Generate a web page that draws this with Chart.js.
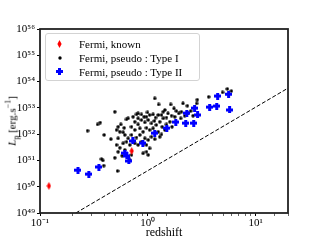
<!DOCTYPE html>
<html>
<head>
<meta charset="utf-8">
<script src="https://cdn.jsdelivr.net/npm/chart.js@4"></script>
<style>
  html, body { margin: 0; padding: 0; background: #fff; }
  #wrap { position: relative; width: 320px; height: 240px; }
  #legend {
    position: absolute; left: 45px; top: 33px; width: 153px; height: 46px;
    border: 1px solid #d3d3d3; border-radius: 3px; background: rgba(255,255,255,0.85);
    font-family: "Liberation Serif", serif; font-size: 11px; color: #000;
  }
  .row { position: absolute; left: 0; width: 100%; height: 14px; line-height: 14px; }
  .row canvas { position: absolute; left: 10px; top: 3px; }
  .row span { position: absolute; left: 33px; white-space: nowrap; }
  #ytitle {
    position: absolute; left: 12px; top: 121px; transform: translate(-50%, -50%) rotate(-90deg);
    font-family: "Liberation Serif", serif; font-size: 11px; white-space: nowrap;
  }
</style>
</head>
<body>
<div id="wrap">
  <canvas id="chart" width="320" height="240"></canvas>
  <div id="ytitle"><i>L</i><sub style="font-size:8px">p</sub> [erg.s<sup style="font-size:8px">−1</sup>]</div>
  <div id="legend">
    <div class="row" style="top:3px"><canvas id="lg0" width="8" height="8"></canvas><span>Fermi, known</span></div>
    <div class="row" style="top:17px"><canvas id="lg1" width="8" height="8"></canvas><span>Fermi, pseudo : Type I</span></div>
    <div class="row" style="top:31px"><canvas id="lg2" width="8" height="8"></canvas><span>Fermi, pseudo : Type II</span></div>
  </div>
</div>
<script>
// Fermi, known
const knownZ = [0.121, 0.71];
const knownLogL = [50.03, 51.36];

// Fermi, pseudo : Type I
const typeIZ = [1.16, 1.26, 1.63, 1.75, 2.12, 2.33, 2.88, 2.84, 3.67, 4.94, 5.47, 5.96,
  0.494, 0.634, 0.342, 0.362, 0.276, 0.394, 0.454, 0.531, 0.513, 0.562, 0.591, 0.658,
  0.731, 0.785, 0.813, 0.873, 0.924, 0.993, 1.04, 1.12, 1.18, 1.25, 1.39, 1.44,
  1.54, 1.66, 1.78, 1.94, 2.05, 2.20, 2.36, 2.50, 2.63, 0.758, 0.813, 0.873,
  0.938, 1.01, 1.08, 1.15, 1.20, 1.29, 1.36, 1.49, 1.60, 1.68, 0.706, 0.758,
  0.843, 0.905, 0.973, 1.04, 1.12, 1.25, 1.34, 1.44, 0.612, 0.658, 0.706, 0.785,
  0.843, 0.938, 1.01, 1.08, 1.16, 1.29, 0.531, 0.513, 0.550, 0.591, 0.634, 0.681,
  0.758, 0.813, 0.873, 0.973, 1.04, 0.531, 0.578, 0.494, 0.612, 0.634, 0.905, 1.01,
  0.973, 0.706, 0.681, 0.524, 0.372, 0.550, 0.604, 0.813, 0.973, 1.39, 1.49, 1.84,
  2.02, 1.34, 0.383, 0.39];
const typeILogL = [53.36, 53.13, 53.13, 52.98, 53.17, 53.08, 53.31, 53.17, 53.42, 53.59, 53.72, 53.64,
  52.85, 52.56, 52.37, 52.44, 52.13, 51.97, 51.81, 52.28, 52.16, 52.37, 52.07, 52.60,
  52.66, 52.75, 52.79, 52.75, 52.66, 52.83, 52.73, 52.75, 52.63, 52.73, 52.85, 52.92,
  52.79, 52.70, 52.66, 52.79, 52.85, 52.70, 52.79, 52.88, 52.70, 52.47, 52.37, 52.54,
  52.45, 52.54, 52.41, 52.50, 52.35, 52.47, 52.28, 52.37, 52.47, 52.28, 52.28, 52.16,
  52.22, 52.09, 52.24, 52.16, 52.22, 52.09, 51.99, 52.16, 51.97, 51.84, 51.97, 51.87,
  51.97, 51.84, 51.78, 51.90, 51.81, 51.90, 51.84, 51.59, 51.48, 51.65, 51.71, 51.59,
  51.65, 51.59, 51.71, 51.59, 51.46, 51.33, 51.18, 51.10, 51.40, 51.23, 51.27, 51.21,
  51.33, 51.21, 51.02, 50.60, 51.05, 52.09, 52.24, 52.60, 52.66, 52.60, 52.63, 52.88,
  52.60, 52.73, 51.00, 50.80];

// Fermi, pseudo : Type II
const typeIIZ = [0.225, 0.284, 0.352, 0.612, 0.639, 0.667, 0.726, 0.90, 1.16, 1.50,
  1.82, 2.25, 2.67, 2.30, 2.72, 2.90, 3.75, 4.36, 4.45, 5.62, 5.74];
const typeIILogL = [50.63, 50.48, 50.75, 51.28, 51.17, 50.98, 51.74, 51.66, 52.04, 52.23,
  52.46, 52.42, 52.42, 52.80, 52.99, 52.73, 53.03, 53.07, 53.45, 53.52, 52.92];

// detection limit (dashed)
const limitZ = [0.215, 20];
const limitLogL = [49.0, 53.75];

const xMin = 0.1, xMax = 20;
const yMin = 1e49, yMax = 1e56;

function pts(zs, logs) {
  return zs.map((z, i) => ({ x: z, y: Math.pow(10, logs[i]) }));
}

function diamondMarker() {
  const c = document.createElement('canvas');
  c.width = 5; c.height = 8;
  const g = c.getContext('2d');
  g.fillStyle = '#ff0000';
  g.beginPath();
  g.moveTo(2.5, 0); g.lineTo(4.6, 4); g.lineTo(2.5, 8); g.lineTo(0.4, 4);
  g.closePath(); g.fill();
  return c;
}
function plusMarker() {
  const c = document.createElement('canvas');
  c.width = 7; c.height = 7;
  const g = c.getContext('2d');
  g.fillStyle = '#0000ff';
  g.fillRect(2, 0, 3, 7);
  g.fillRect(0, 2, 7, 3);
  return c;
}
function dotMarker() {
  const c = document.createElement('canvas');
  c.width = 4; c.height = 4;
  const g = c.getContext('2d');
  g.fillStyle = '#000';
  g.beginPath(); g.arc(2, 2, 1.7, 0, Math.PI * 2); g.fill();
  return c;
}

const redMark = diamondMarker();
const blueMark = plusMarker();
const blackMark = dotMarker();

// legend markers
[[redMark, 'lg0'], [blackMark, 'lg1'], [blueMark, 'lg2']].forEach(([m, id]) => {
  const g = document.getElementById(id).getContext('2d');
  g.drawImage(m, Math.floor((8 - m.width) / 2), Math.floor((8 - m.height) / 2));
});

const supMap = { '-': '⁻', '0': '⁰', '1': '¹', '2': '²', '3': '³', '4': '⁴', '5': '⁵', '6': '⁶', '7': '⁷', '8': '⁸', '9': '⁹' };
function powLabel(v) {
  const e = Math.log10(v);
  if (Math.abs(e - Math.round(e)) > 1e-6) return '';
  return '10' + String(Math.round(e)).split('').map(ch => supMap[ch]).join('');
}
function isMajor(v) {
  const e = Math.log10(v);
  return Math.abs(e - Math.round(e)) < 1e-6;
}

const frame = {
  id: 'frame',
  afterDraw(chart) {
    const a = chart.chartArea, ctx = chart.ctx;
    ctx.save();
    ctx.strokeStyle = '#222';
    ctx.lineWidth = 1.8;
    ctx.strokeRect(a.left, a.top, a.right - a.left, a.bottom - a.top);
    ctx.restore();
  }
};

const font = { family: '"Liberation Serif", serif', size: 11 };

new Chart(document.getElementById('chart'), {
  type: 'scatter',
  data: {
    datasets: [
      { label: 'limit', type: 'line', data: pts(limitZ, limitLogL), borderColor: '#000',
        borderWidth: 1, borderDash: [4, 2], pointRadius: 0, fill: false, order: 4 },
      { label: 'Fermi, pseudo : Type I', data: pts(typeIZ, typeILogL), pointStyle: blackMark, order: 3 },
      { label: 'Fermi, pseudo : Type II', data: pts(typeIIZ, typeIILogL), pointStyle: blueMark, order: 2 },
      { label: 'Fermi, known', data: pts(knownZ, knownLogL), pointStyle: redMark, order: 1 }
    ]
  },
  options: {
    responsive: false,
    animation: false,
    layout: { padding: { left: 0, right: 32, top: 29, bottom: 0 } },
    plugins: { legend: { display: false }, tooltip: { enabled: false } },
    scales: {
      x: {
        type: 'logarithmic', min: xMin, max: xMax,
        afterFit: s => { s.height = 27; },
        border: { display: false },
        grid: { drawOnChartArea: false, tickLength: 3, color: '#000',
          lineWidth: c => isMajor(c.tick.value) ? 1 : 0.6 },
        ticks: { autoSkip: false, maxRotation: 0, padding: 1, color: '#000', font: font,
          callback: v => powLabel(v) },
        title: { display: true, text: 'redshift', color: '#000', padding: { top: 0, bottom: 0 },
          font: { family: '"Liberation Serif", serif', size: 12 } }
      },
      y: {
        type: 'logarithmic', min: yMin, max: yMax,
        afterFit: s => { s.width = 40; },
        border: { display: false },
        grid: { drawOnChartArea: false, tickLength: 3,
          color: c => isMajor(c.tick.value) ? '#000' : 'rgba(0,0,0,0)' },
        ticks: { autoSkip: false, padding: 2, color: '#000', font: font,
          callback: v => powLabel(v) }
      }
    }
  },
  plugins: [frame]
});
</script>
</body>
</html>
